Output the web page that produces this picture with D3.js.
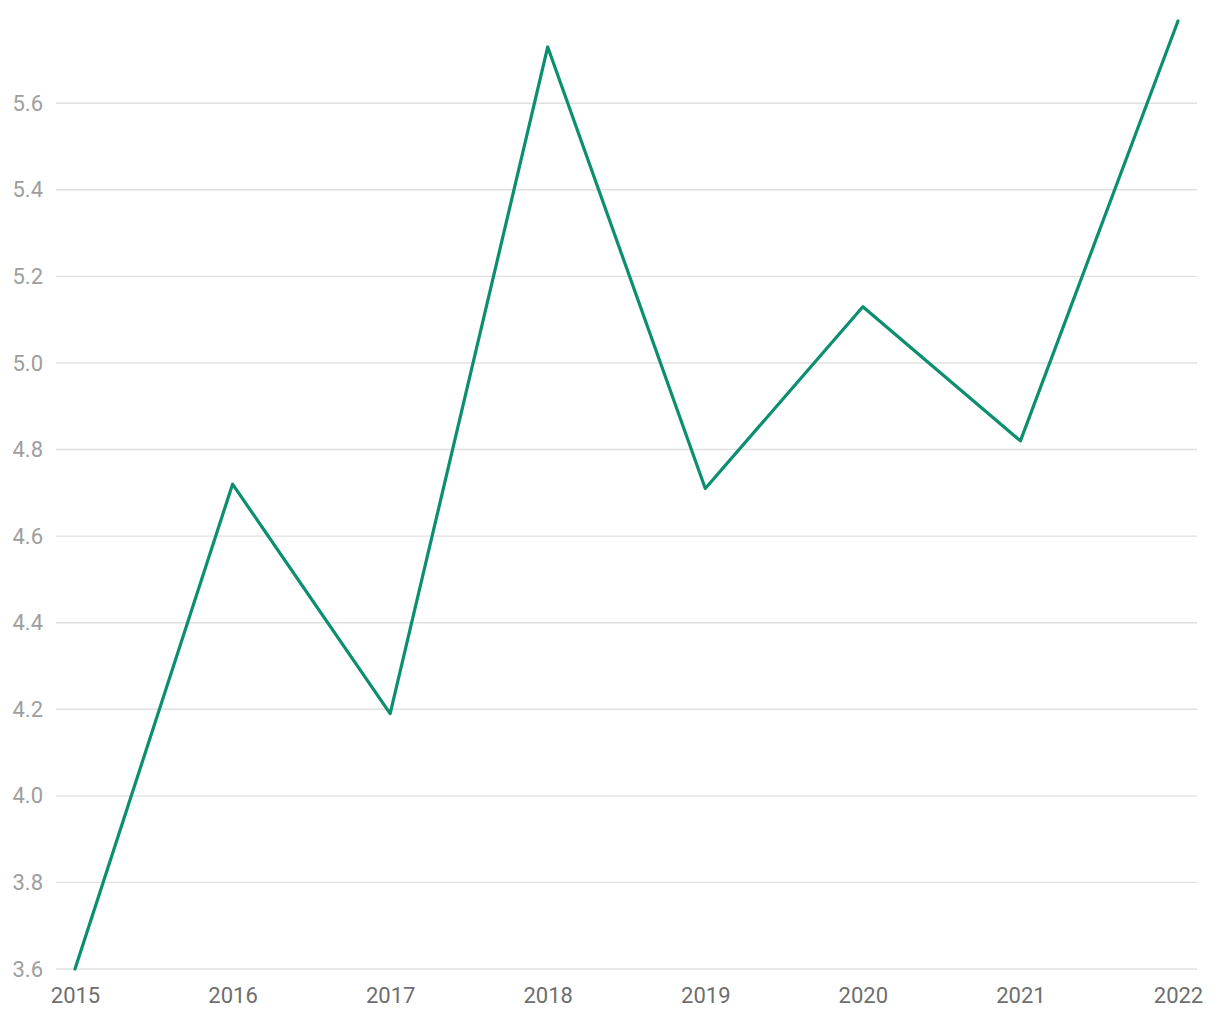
<!DOCTYPE html>
<html><head><meta charset="utf-8">
<script src="https://cdn.jsdelivr.net/npm/d3@7"></script>
<style>body{margin:0;background:#fff}svg{display:block}</style>
</head><body>
<svg id="c" width="1220" height="1020"></svg>
<script>
const years = ["2015","2016","2017","2018","2019","2020","2021","2022"];
const values = [3.6, 4.72, 4.19, 5.73, 4.71, 5.13, 4.82, 5.79];
const yTicks = [3.6, 3.8, 4.0, 4.2, 4.4, 4.6, 4.8, 5.0, 5.2, 5.4, 5.6];

const svg = d3.select("#c");
const gridLeft = 56, gridRight = 1197;
const x = d3.scalePoint().domain(years).range([75, 1178]);
const y = d3.scaleLinear().domain([3.6, d3.max(values)]).range([969, 21]);

const grid = svg.append("g");
grid.selectAll("line").data(yTicks).join("line")
  .attr("x1", gridLeft).attr("x2", gridRight)
  .attr("y1", d => y(d)).attr("y2", d => y(d))
  .attr("stroke", "#e0e0e0").attr("stroke-width", 1.4);

const yAxis = d3.axisLeft(y).tickValues(yTicks).tickFormat(d3.format(".1f")).tickSize(0).tickPadding(0);
const gy = svg.append("g").attr("transform", "translate(43,0)").call(yAxis);
gy.select(".domain").remove();
gy.selectAll("text").attr("font-family", "Roboto, sans-serif").attr("font-size", 22).attr("fill", "#9e9e9e");

const xAxis = d3.axisBottom(x).tickSize(0).tickPadding(0);
const gx = svg.append("g").attr("transform", "translate(0,987)").call(xAxis);
gx.select(".domain").remove();
gx.selectAll("text").attr("font-family", "Roboto, sans-serif").attr("font-size", 22).attr("fill", "#6e6e6e");

const line = d3.line().x((d, i) => x(years[i])).y(d => y(d));
svg.append("path").datum(values)
  .attr("d", line).attr("fill", "none")
  .attr("stroke", "#0b8f6f").attr("stroke-width", 3.2)
  .attr("stroke-linejoin", "round").attr("stroke-linecap", "round");
</script>
</body></html>
